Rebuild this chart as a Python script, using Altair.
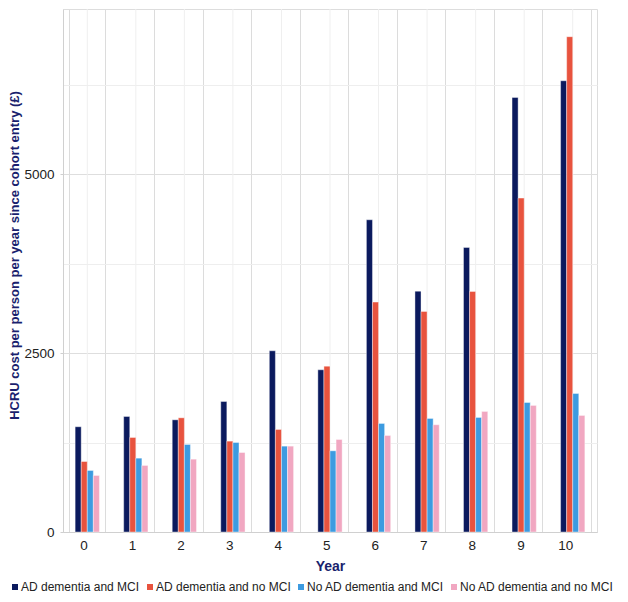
import altair as alt
import pandas as pd

years = [0, 1, 2, 3, 4, 5, 6, 7, 8, 9, 10]
series = ["AD dementia and MCI", "AD dementia and no MCI",
          "No AD dementia and MCI", "No AD dementia and no MCI"]
ad_mci = [1471, 1615, 1568, 1824, 2533, 2267, 4364, 3366, 3977, 6074, 6307]
ad_nomci = [985, 1321, 1596, 1270, 1433, 2318, 3213, 3083, 3362, 4667, 6923]
noad_mci = [860, 1032, 1223, 1251, 1200, 1135, 1517, 1587, 1601, 1810, 1936]
noad_nomci = [790, 930, 1018, 1111, 1200, 1293, 1349, 1499, 1685, 1769, 1629]
colors = ["#0b1a5e", "#e8533e", "#3d9be0", "#f1a7c1"]

rows = []
for s, vals in zip(series, [ad_mci, ad_nomci, noad_mci, noad_nomci]):
    for y, v in zip(years, vals):
        rows.append({"Year": y, "Series": s, "Cost": v})
df = pd.DataFrame(rows)
yr = pd.DataFrame({"Year": years})

FONT = "Liberation Sans"
NAVY = "#1a1f6e"

xscale = alt.Scale(paddingInner=0.25, paddingOuter=0.125)

centers = alt.Chart(yr).mark_rule(color="#efefef", strokeWidth=1).encode(
    x=alt.X("Year:O", scale=xscale)
)

bars = alt.Chart(df).mark_bar(stroke="white", strokeWidth=0.4).encode(
    x=alt.X("Year:O", scale=xscale,
            axis=alt.Axis(title="Year", labelAngle=0, tickBand="extent",
                          grid=True, gridColor="#dcdcdc", ticks=False,
                          domainColor="#d0d0d0", labelFontSize=13.5,
                          labelColor="#222222", labelPadding=13,
                          titleFontSize=14, titleFontWeight="bold",
                          titleColor=NAVY, titlePadding=8)),
    xOffset=alt.XOffset("Series:N", sort=series,
                        scale=alt.Scale(paddingOuter=1, paddingInner=0)),
    y=alt.Y("Cost:Q",
            scale=alt.Scale(domain=[0, 7310], nice=False),
            axis=alt.Axis(title="HCRU cost per person per year since cohort entry (£)",
                          values=[0, 1250, 2500, 3750, 5000, 6250],
                          format="d",
                          labelExpr="datum.value % 2500 === 0 ? datum.label : ''",
                          gridColor={"condition": {"test": "datum.value % 2500 === 0", "value": "#dedede"}, "value": "#eeeeee"},
                          tickColor={"condition": {"test": "datum.value % 2500 === 0", "value": "#cfcfcf"}, "value": "transparent"},
                          tickSize=3, domainColor="#d0d0d0",
                          labelFontSize=13.5, labelColor="#222222",
                          labelPadding=6, titleFontSize=13,
                          titleFontWeight="bold", titleColor=NAVY,
                          titlePadding=2, titleY=246)),
    color=alt.Color("Series:N", sort=series,
                    scale=alt.Scale(domain=series, range=colors),
                    legend=alt.Legend(title=None, orient="none",
                                      direction="horizontal",
                                      legendX=-54, legendY=572,
                                      symbolType="square", symbolSize=36,
                                      symbolStrokeWidth=0,
                                      labelFontSize=12, labelColor="#222222",
                                      labelLimit=220,
                                      columnPadding=4, symbolOffset=0,
                                      labelOffset=0, padding=0))
)

chart = alt.layer(centers, bars).properties(
    width=534, height=523,
    padding={"left": 0, "top": 0, "right": 0, "bottom": 0}
).configure_view(stroke="#d8d8d8").configure(font=FONT)

chart.save("out.html", embed_options={"renderer": "svg", "actions": False})
